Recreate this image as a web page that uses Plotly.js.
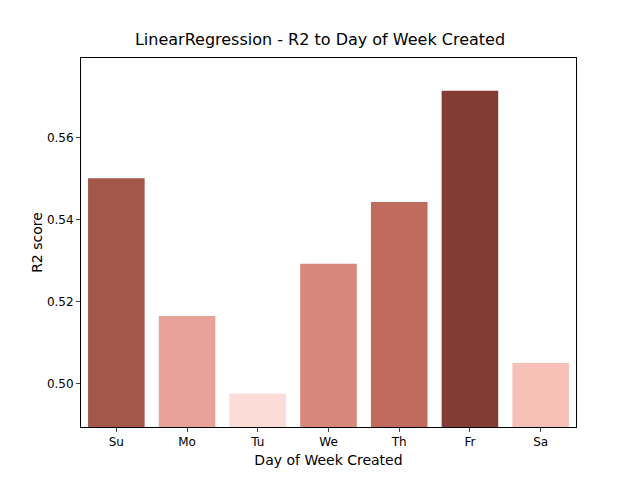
<!DOCTYPE html>
<html><head><script src="https://cdn.plot.ly/plotly-3.0.1.min.js"></script></head>
<body style="margin:0"><div id="c" style="width:640px;height:480px"></div>
<script>
const days = ["Su","Mo","Tu","We","Th","Fr","Sa"];
const r2 = [0.5502,0.5166,0.4976,0.5293,0.5444,0.5715,0.5051];
const colors = ["#a25749","#e8a298","#fcdcd7","#d6887a","#c06b5e","#833c33","#f7c0b7"];
Plotly.newPlot("c",[{type:"bar",x:days,y:r2,marker:{color:colors},width:0.8}],{
  width:640,height:480,margin:{l:81,r:64,t:58,b:53},
  paper_bgcolor:"#fff",plot_bgcolor:"#fff",
  font:{family:"DejaVu Sans",size:12,color:"#000"},
  title:{text:"LinearRegression - R2 to Day of Week Created",font:{size:16},x:0.5,y:0.93,xanchor:"center"},
  xaxis:{title:{text:"Day of Week Created",standoff:6},showline:true,mirror:true,linecolor:"#000",ticks:"outside",ticklen:4,showgrid:false},
  yaxis:{title:{text:"R2 score"},range:[0.4895,0.5795],tickvals:[0.50,0.52,0.54,0.56],ticktext:["0.50","0.52","0.54","0.56"],showline:true,mirror:true,linecolor:"#000",ticks:"outside",ticklen:4,showgrid:false,zeroline:false}
},{displayModeBar:false});
</script></body></html>
